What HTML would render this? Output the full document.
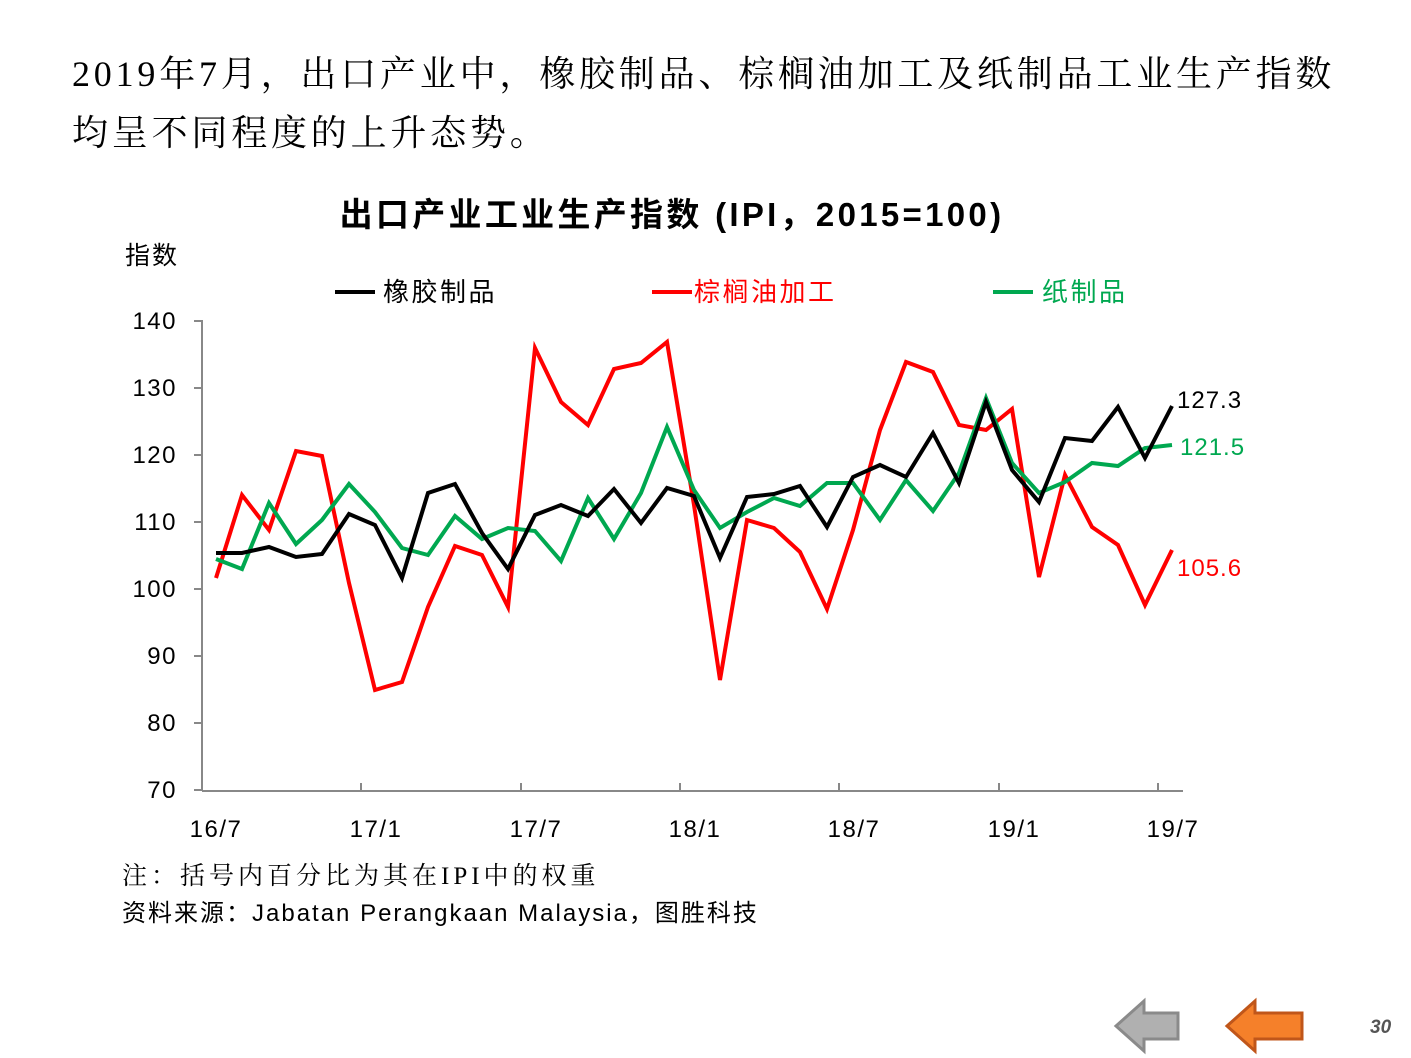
<!DOCTYPE html>
<html><head><meta charset="utf-8"><style>
body{margin:0;width:1411px;height:1058px;background:#fff;overflow:hidden;font-family:"Liberation Sans","Noto Sans CJK SC",sans-serif}
</style></head><body>
<svg width="1411" height="1058" xmlns="http://www.w3.org/2000/svg" style="position:absolute;left:0;top:0">
<g font-family="'Liberation Serif','Noto Serif CJK SC',serif" font-size="36" fill="#000" letter-spacing="3.8">
<text x="72" y="86">2019年7月，出口产业中，橡胶制品、棕榈油加工及纸制品工业生产指数</text>
<text x="72" y="145">均呈不同程度的上升态势。</text>
</g>
<text x="672" y="226" text-anchor="middle" font-size="33" font-weight="bold" letter-spacing="3.3" font-family="'Liberation Sans','Noto Sans CJK SC',sans-serif">出口产业工业生产指数 (IPI，2015=100)</text>
<text x="125" y="264" font-size="25" letter-spacing="2" font-family="'Liberation Sans','Noto Sans CJK SC',sans-serif">指数</text>
<g font-size="26" letter-spacing="2.5" font-family="'Liberation Sans','Noto Sans CJK SC',sans-serif">
<line x1="335" y1="292" x2="375" y2="292" stroke="#000" stroke-width="4"/><text x="383" y="301">橡胶制品</text>
<line x1="652" y1="292" x2="692" y2="292" stroke="#f00" stroke-width="4"/><text x="694" y="301" fill="#f00">棕榈油加工</text>
<line x1="993" y1="292" x2="1033" y2="292" stroke="#00a850" stroke-width="4"/><text x="1042" y="301" fill="#00a850">纸制品</text>
</g>
<g stroke="#888" stroke-width="2">
<line x1="202" y1="320" x2="202" y2="791"/><line x1="202" y1="791" x2="1183" y2="791"/>
<line x1="194" y1="321" x2="202" y2="321"/><line x1="194" y1="388" x2="202" y2="388"/><line x1="194" y1="455" x2="202" y2="455"/><line x1="194" y1="522" x2="202" y2="522"/><line x1="194" y1="589" x2="202" y2="589"/><line x1="194" y1="656" x2="202" y2="656"/><line x1="194" y1="723" x2="202" y2="723"/><line x1="194" y1="790" x2="202" y2="790"/>
<line x1="361" y1="791" x2="361" y2="783"/><line x1="521" y1="791" x2="521" y2="783"/><line x1="680" y1="791" x2="680" y2="783"/><line x1="839" y1="791" x2="839" y2="783"/><line x1="999" y1="791" x2="999" y2="783"/><line x1="1158" y1="791" x2="1158" y2="783"/>
</g>
<g font-size="24" text-anchor="end" letter-spacing="1.5" font-family="'Liberation Sans','DejaVu Sans',sans-serif">
<text x="177" y="329">140</text><text x="177" y="396">130</text><text x="177" y="463">120</text><text x="177" y="530">110</text><text x="177" y="597">100</text><text x="177" y="664">90</text><text x="177" y="731">80</text><text x="177" y="798">70</text>
</g>
<g font-size="24" text-anchor="middle" letter-spacing="1.5" font-family="'Liberation Sans','DejaVu Sans',sans-serif">
<text x="216" y="837">16/7</text><text x="376" y="837">17/1</text><text x="536" y="837">17/7</text><text x="695" y="837">18/1</text><text x="854" y="837">18/7</text><text x="1014" y="837">19/1</text><text x="1173" y="837">19/7</text>
</g>
<g fill="none" stroke-width="4" stroke-linejoin="miter">
<polyline stroke="#f00" points="216,578 242,495 269,530 296,451 322,456 349,583 375,690 402,682 428,607 455,546 482,555 508,607 535,348 561,402 588,425 614,369 641,363 667,342 694,505 720,680 747,520 774,528 800,552 827,609 853,530 880,430 906,362 933,372 959,425 986,430 1012,409 1039,577 1065,475 1092,527 1118,545 1145,605 1172,550"/>
<polyline stroke="#00a850" points="216,559 242,569 269,503 296,544 322,520 349,484 375,512 402,548 428,555 455,516 482,539 508,528 535,531 561,561 588,498 614,539 641,493 667,427 694,490 720,528 747,512 774,498 800,506 827,483 853,483 880,520 906,480 933,511 959,473 986,398 1012,463 1039,493 1065,482 1092,463 1118,466 1145,448 1172,445"/>
<polyline stroke="#000" points="216,553 242,553 269,547 296,557 322,554 349,514 375,525 402,578 428,493 455,484 482,533 508,569 535,515 561,505 588,516 614,489 641,523 667,488 694,496 720,558 747,497 774,494 800,486 827,527 853,477 880,465 906,477 933,433 959,483 986,402 1012,470 1039,502 1065,438 1092,441 1118,407 1145,458 1172,406"/>
</g>
<g font-size="24" letter-spacing="1" font-family="'Liberation Sans','DejaVu Sans',sans-serif">
<text x="1177" y="408" fill="#000">127.3</text>
<text x="1180" y="455" fill="#00a850">121.5</text>
<text x="1177" y="576" fill="#f00">105.6</text>
</g>
<text x="122" y="884" font-size="25" letter-spacing="4" font-family="'Liberation Serif','Noto Serif CJK SC',serif">注：括号内百分比为其在IPI中的权重</text>
<text x="122" y="921" font-size="24" letter-spacing="2.0" font-family="'Liberation Sans','Noto Sans CJK SC',sans-serif">资料来源：Jabatan Perangkaan Malaysia，图胜科技</text>
<polygon points="1116,1026 1144,1001 1144,1013 1178,1013 1178,1039 1144,1039 1144,1051" fill="#b0b0b0" stroke="#8a8a8a" stroke-width="3"/>
<polygon points="1227,1026 1255,1001 1255,1013 1302,1013 1302,1039 1255,1039 1255,1051" fill="#f5802a" stroke="#c0561a" stroke-width="3"/>
<text x="1370" y="1033" font-size="19" font-style="italic" font-weight="bold" fill="#555" font-family="'Liberation Sans',sans-serif">30</text>
</svg>
</body></html>
